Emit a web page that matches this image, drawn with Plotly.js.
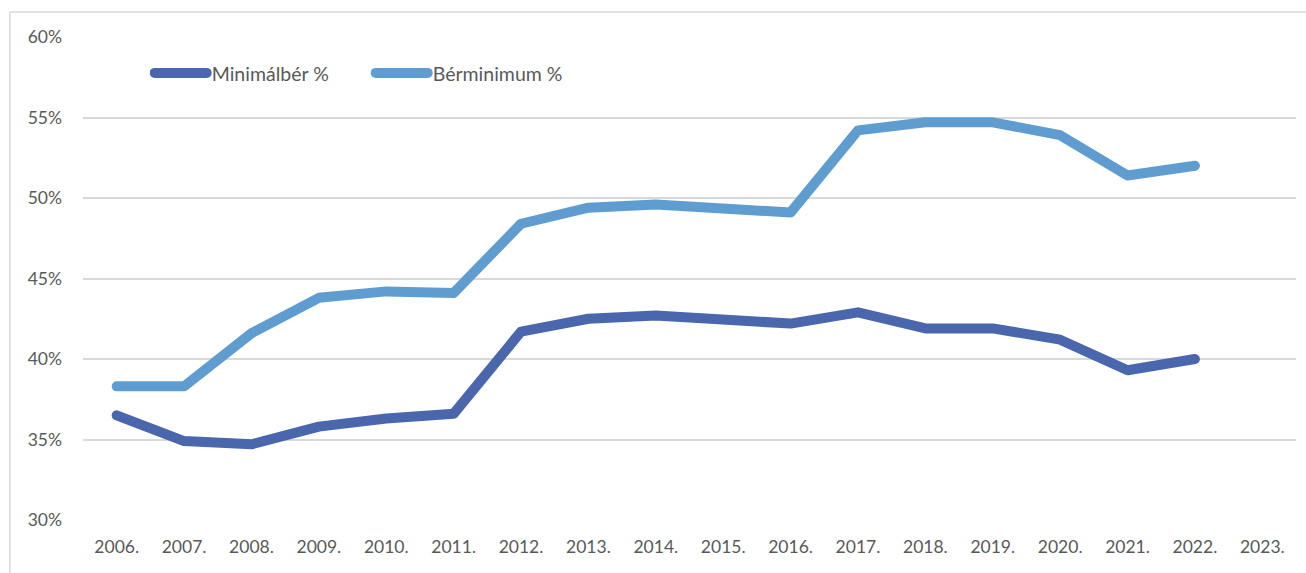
<!DOCTYPE html>
<html><head><meta charset="utf-8">
<script src="https://cdn.plot.ly/plotly-3.0.1.min.js"></script>
<style>html,body{margin:0;padding:0;background:#fff;}#c{width:1306px;height:573px;}
.js-line, .legendlines path{stroke-linecap:round !important; stroke-linejoin:round !important;}
</style>
</head><body><div id="c"></div>
<script>
const years = ["2006.","2007.","2008.","2009.","2010.","2011.","2012.","2013.","2014.","2015.","2016.","2017.","2018.","2019.","2020.","2021.","2022.","2023."];
const minimalber = [36.5,34.9,34.7,35.8,36.3,36.6,41.7,42.5,42.7,42.4,42.2,42.9,41.9,41.9,41.2,39.3,40.0,null];
const berminimum = [38.3,38.3,41.6,43.8,44.2,44.1,48.4,49.4,49.6,49.3,49.1,54.2,54.7,54.7,53.9,51.4,52.0,null];
const seriesNames = ["Minimálbér %","Bérminimum %"];
const yTicks = [30,35,40,45,50,55,60];

const font = "Lato, 'Open Sans', sans-serif";
const traces = [
  {x: years, y: minimalber, name: seriesNames[0], type:"scatter", mode:"lines",
   line:{color:"#4a66ad", width:10}, connectgaps:false},
  {x: years, y: berminimum, name: seriesNames[1], type:"scatter", mode:"lines",
   line:{color:"#5f9dd1", width:10}, connectgaps:false}
];
const layout = {
  width:1306, height:573,
  margin:{l:83, r:10, t:37, b:53},
  paper_bgcolor:"#fff", plot_bgcolor:"#fff",
  font:{family:font, color:"#595959", size:17.5},
  showlegend:true,
  legend:{orientation:"h", x:0.055, y:0.925, xanchor:"left", yanchor:"middle",
    font:{family:font, size:19.5, color:"#595959"}, itemwidth:52, entrywidth:154,
    bgcolor:"rgba(0,0,0,0)"},
  xaxis:{type:"category", categoryarray: years, showgrid:false, zeroline:false,
    showline:false, ticks:"", tickfont:{size:17.5, color:"#595959"}, range:[-0.5,17.5],
    ticklabelstandoff:14, fixedrange:true},
  yaxis:{range:[30,60], tickvals:yTicks, ticktext:yTicks.map(v=>v+"%"), showgrid:true,
    gridcolor:"#d9d9d9", gridwidth:2, zeroline:false, showline:false, ticks:"",
    tickfont:{size:17.5, color:"#595959"}, ticklabelstandoff:20, fixedrange:true},
  shapes:[{type:"rect", xref:"paper", yref:"paper", x0:-0.0603, x1:1.05, y0:-0.2, y1:1.052,
    line:{color:"#d9d9d9", width:1.5}, fillcolor:"rgba(0,0,0,0)", layer:"below"}]
};
Plotly.newPlot("c", traces, layout, {displayModeBar:false, staticPlot:true});
</script></body></html>
